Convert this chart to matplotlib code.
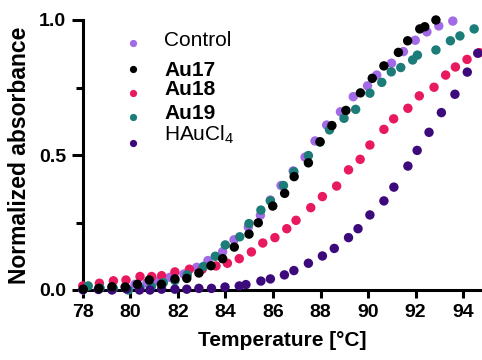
import matplotlib
matplotlib.use("Agg")
import matplotlib.pyplot as plt
from matplotlib.ticker import MultipleLocator

plt.rcParams["font.family"] = ["Liberation Sans", "DejaVu Sans"]
plt.rcParams["mathtext.fontset"] = "custom"
plt.rcParams["mathtext.rm"] = "Liberation Sans"
plt.rcParams["mathtext.it"] = "Liberation Sans:italic"
plt.rcParams["mathtext.bf"] = "Liberation Sans:bold"

# Melting curves: temperature (°C) vs normalized absorbance
control_t = [78.0, 78.65, 79.22, 79.77, 80.19, 80.69, 81.16, 81.66, 82.25, 82.79,
             83.26, 83.88, 84.36, 84.96, 85.47, 85.89, 86.34, 86.85, 87.35, 87.77,
             88.26, 88.84, 89.38, 89.98, 90.37, 90.99, 91.49, 91.99, 92.48, 92.98,
             93.57]
control_a = [0.0, 0.005, 0.008, 0.012, 0.021, 0.026, 0.033, 0.047, 0.059, 0.084,
             0.109, 0.142, 0.186, 0.233, 0.277, 0.333, 0.387, 0.441, 0.492, 0.552,
             0.611, 0.660, 0.716, 0.756, 0.796, 0.840, 0.883, 0.925, 0.956, 0.978,
             0.996]

au17_t = [78.01, 78.67, 79.22, 79.78, 80.29, 80.79, 81.30, 81.87, 82.37, 82.88,
          83.39, 83.88, 84.37, 84.99, 85.38, 85.99, 86.49, 86.89, 87.49, 87.98,
          88.48, 89.07, 89.68, 90.18, 90.67, 91.28, 91.67, 92.18, 92.39, 92.86]
au17_a = [0.003, 0.006, 0.012, 0.011, 0.021, 0.037, 0.021, 0.041, 0.043, 0.063,
          0.090, 0.116, 0.159, 0.207, 0.249, 0.311, 0.358, 0.420, 0.471, 0.549,
          0.609, 0.665, 0.730, 0.784, 0.830, 0.880, 0.923, 0.967, 0.975, 1.0]

au18_t = [77.99, 78.69, 79.28, 79.81, 80.40, 80.89, 81.31, 81.87, 82.48, 83.02,
          83.60, 84.08, 84.58, 85.09, 85.57, 86.08, 86.58, 86.97, 87.59, 88.08,
          88.68, 89.18, 89.67, 90.08, 90.67, 91.08, 91.68, 92.16, 92.78, 93.27,
          93.68, 94.17, 94.69]
au18_a = [0.015, 0.025, 0.034, 0.037, 0.050, 0.050, 0.053, 0.067, 0.077, 0.077,
          0.089, 0.099, 0.116, 0.141, 0.174, 0.194, 0.227, 0.258, 0.305, 0.346,
          0.385, 0.445, 0.484, 0.537, 0.595, 0.634, 0.673, 0.719, 0.751, 0.796,
          0.826, 0.854, 0.879]

au19_t = [78.22, 78.72, 79.28, 79.91, 80.40, 80.88, 81.38, 81.87, 82.39, 83.07,
          83.57, 83.99, 84.60, 84.99, 85.49, 85.89, 86.44, 86.88, 87.49, 87.98,
          88.38, 88.99, 89.48, 90.08, 90.58, 90.98, 91.38, 91.88, 92.08, 92.86,
          93.47, 93.87, 94.47]
au19_a = [0.015, 0.007, 0.006, 0.0, 0.007, 0.013, 0.027, 0.035, 0.056, 0.087,
          0.125, 0.167, 0.197, 0.246, 0.296, 0.330, 0.387, 0.438, 0.498, 0.548,
          0.593, 0.636, 0.669, 0.729, 0.769, 0.808, 0.824, 0.852, 0.870, 0.889,
          0.923, 0.941, 0.967]

haucl4_t = [78.0, 78.65, 79.22, 79.83, 80.38, 80.82, 81.31, 81.87, 82.37, 82.88,
            83.41, 83.98, 84.58, 84.86, 85.49, 85.89, 86.48, 86.88, 87.49, 88.08,
            88.58, 89.18, 89.58, 90.08, 90.67, 91.09, 91.68, 92.07, 92.57, 93.09,
            93.66, 94.18, 94.62]
haucl4_a = [0.002, 0.002, 0.0, 0.004, 0.0, 0.0, 0.003, 0.003, 0.003, 0.006,
            0.006, 0.011, 0.015, 0.020, 0.033, 0.041, 0.056, 0.072, 0.099, 0.126,
            0.154, 0.194, 0.227, 0.278, 0.330, 0.381, 0.459, 0.517, 0.584, 0.657,
            0.725, 0.807, 0.877]

x_ticks = [78, 80, 82, 84, 86, 88, 90, 92, 94]
y_ticks = [0.0, 0.5, 1.0]

colors = {
    "Control": "#a36ae8",
    "Au17": "#000000",
    "Au18": "#e8195e",
    "Au19": "#1c7c78",
    "HAuCl4": "#3d0a7c",
}

fig = plt.figure(figsize=(4.82, 3.60), dpi=100)
ax = fig.add_axes([83 / 482, 70 / 360, 399 / 482, 270 / 360])

ms = 46
series = [
    ("Control", control_t, control_a),
    ("Au18", au18_t, au18_a),
    ("Au19", au19_t, au19_a),
    ("HAuCl4", haucl4_t, haucl4_a),
    ("Au17", au17_t, au17_a),
]
for name, t, a in series:
    ax.scatter(t, a, s=ms, color=colors[name], edgecolors="none",
               clip_on=False, zorder=3)

ax.set_xlim(78, 94.8)
ax.set_ylim(0, 1)
ax.set_xticks(x_ticks)
ax.set_xticklabels([str(v) for v in x_ticks])
ax.set_yticks(y_ticks)
ax.set_yticklabels([f"{v:.1f}" for v in y_ticks])
ax.yaxis.set_minor_locator(MultipleLocator(0.25))

for side in ("top", "right"):
    ax.spines[side].set_visible(False)
for side in ("left", "bottom"):
    ax.spines[side].set_linewidth(2.2)
    ax.spines[side].set_capstyle("projecting")

ax.tick_params(axis="both", which="major", width=2.2, labelsize=14)
ax.tick_params(axis="y", which="major", length=8, pad=4)
ax.tick_params(axis="y", which="minor", length=5, width=2.2)
ax.tick_params(axis="x", which="major", length=6, pad=4)
for lab in ax.get_xticklabels() + ax.get_yticklabels():
    lab.set_fontweight("bold")

ax.set_xlabel("Temperature [°C]", fontsize=15, fontweight="bold", labelpad=7)
ax.set_ylabel("Normalized absorbance", fontsize=16.5, fontweight="bold", labelpad=6)

# Hand-placed key
legend_rows = [
    ("Control", "Control", "normal", 43.3, 45.7),
    ("Au17", "Au17", "bold", 69.0, 76.0),
    ("Au18", "Au18", "bold", 92.7, 95.0),
    ("Au19", "Au19", "bold", 117.3, 119.0),
    ("HAuCl4", "HAuCl$_4$", "normal", 142.7, 141.0),
]
for key, label, weight, my, ty in legend_rows:
    fig.add_artist(plt.Line2D([133.3 / 482], [1 - my / 360], marker="o",
                              markersize=5.2, color=colors[key], linestyle="none",
                              markeredgewidth=0, transform=fig.transFigure))
    fig.text(164 / 482, 1 - ty / 360, label, fontsize=15, fontweight=weight,
             va="baseline", ha="left")

fig.savefig("out.png", dpi=100)
